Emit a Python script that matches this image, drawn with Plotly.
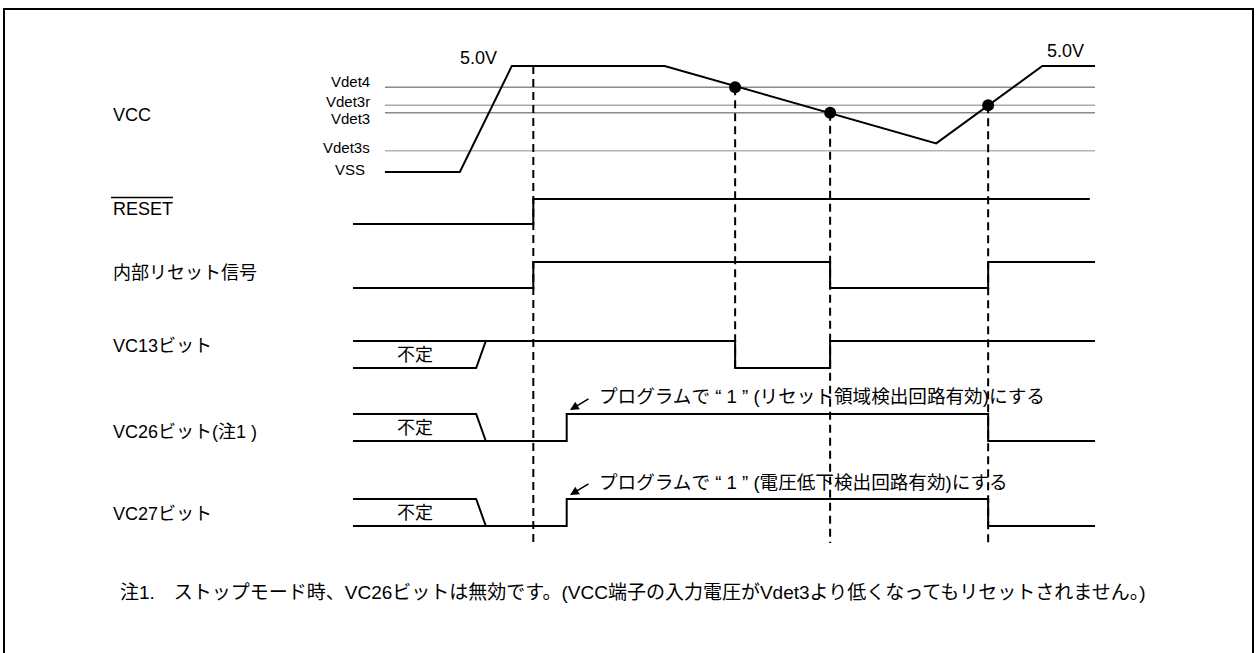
import plotly.graph_objects as go

W, H = 1257, 653

# ---------------- data (time in arbitrary units, levels logical / volts) ----------------
vcc_time = [4.3, 14.4, 21.4, 42.0, 78.6, 92.9, 100.0]
vcc_volt = [0.0, 0.0, 5.0, 5.0, 1.35, 5.0, 5.0]

thr_names = ["Vdet4", "Vdet3r", "Vdet3", "Vdet3s"]
thr_volts = [4.0, 3.15, 2.8, 1.0]
thr_span = [4.3, 100.0]

detect_time = [51.5, 64.3, 85.6]
detect_volt = [4.0, 2.8, 3.15]

reset_time = [0.0, 24.3, 24.3, 99.3]
reset_level = [0, 0, 1, 1]

internal_time = [0.0, 24.3, 24.3, 64.3, 64.3, 85.6, 85.6, 100.0]
internal_level = [0, 0, 1, 1, 0, 0, 1, 1]

vc13_time = [0.0, 51.5, 51.5, 64.3, 64.3, 100.0]
vc13_level = [1, 1, 0, 0, 1, 1]
vc13_undef_time = [0.0, 16.6, 17.9]
vc13_undef_level = [0, 0, 1]

vc26_time = [0.0, 28.8, 28.8, 85.6, 85.6, 100.0]
vc26_level = [0, 0, 1, 1, 0, 0]
vc26_undef_time = [0.0, 16.6, 17.9]
vc26_undef_level = [1, 1, 0]

vc27_time = [0.0, 28.8, 28.8, 85.6, 85.6, 100.0]
vc27_level = [0, 0, 1, 1, 0, 0]
vc27_undef_time = [0.0, 16.6, 17.9]
vc27_undef_level = [1, 1, 0]

signal_labels = ["VCC", "RESET", "内部リセット信号", "VC13ビット", "VC26ビット(注1 )", "VC27ビット"]
undef_text = "不定"
note_vc26 = "プログラムで “ 1 ” (リセット領域検出回路有効)にする"
note_vc27 = "プログラムで “ 1 ” (電圧低下検出回路有効)にする"
footnote = "注1.　ストップモード時、VC26ビットは無効です。(VCC端子の入力電圧がVdet3より低くなってもリセットされません。)"
v_top_label = "5.0V"

# ---------------- layout geometry ----------------
X0_PX, PX_PER_T = 353.0, 7.42
x_range = [(0 - X0_PX) / PX_PER_T, (W - X0_PX) / PX_PER_T]


def yrange(p_lo, p_hi, v_lo, v_hi):
    upp = (v_hi - v_lo) / (p_lo - p_hi)
    return [v_lo - (H - p_lo) * upp, v_lo + p_lo * upp]


def fx(p):
    return p / W


def fy(p):
    return 1 - p / H


# pixel rows of each signal (low, high)
rows = {
    "vcc": (172, 66, 0.0, 5.0),
    "reset": (224, 199, 0, 1),
    "internal": (288, 262, 0, 1),
    "vc13": (368, 341, 0, 1),
    "vc26": (441, 414, 0, 1),
    "vc27": (526, 499, 0, 1),
}
axis_of = {"vcc": "y", "reset": "y2", "internal": "y3", "vc13": "y4", "vc26": "y5", "vc27": "y6"}


def vcc_py(v):
    p_lo, p_hi, v_lo, v_hi = rows["vcc"]
    return p_lo + (v - v_lo) / (v_hi - v_lo) * (p_hi - p_lo)


fig = go.Figure()
BLK = dict(color="black", width=2)

# threshold lines
thr_colors = ["#8a8a8a", "#ababab", "#8a8a8a", "#b5b5b5"]
for v, c in zip(thr_volts, thr_colors):
    fig.add_trace(go.Scatter(x=thr_span, y=[v, v], mode="lines", line=dict(color=c, width=1.5),
                             yaxis="y", hoverinfo="skip", showlegend=False))

# dashed guides (shapes)
dash_x = [24.3] + detect_time
dash_top = [vcc_py(5.0)] + [vcc_py(v) for v in detect_volt]
dash_bot = [543, 368, 543, 543]
for t, ytop, ybot in zip(dash_x, dash_top, dash_bot):
    fig.add_shape(type="line", xref="x", yref="paper", x0=t, x1=t, y0=fy(ytop), y1=fy(ybot),
                  line=dict(color="black", width=2, dash="8px,5px"))

# signals
fig.add_trace(go.Scatter(x=vcc_time, y=vcc_volt, mode="lines", line=BLK, yaxis="y",
                         hoverinfo="skip", showlegend=False))
fig.add_trace(go.Scatter(x=detect_time, y=detect_volt, mode="markers", yaxis="y",
                         marker=dict(color="black", size=12), cliponaxis=False,
                         hoverinfo="skip", showlegend=False))

for key, tt, ll in [("reset", reset_time, reset_level),
                    ("internal", internal_time, internal_level),
                    ("vc13", vc13_time, vc13_level),
                    ("vc13", vc13_undef_time, vc13_undef_level),
                    ("vc26", vc26_time, vc26_level),
                    ("vc26", vc26_undef_time, vc26_undef_level),
                    ("vc27", vc27_time, vc27_level),
                    ("vc27", vc27_undef_time, vc27_undef_level)]:
    fig.add_trace(go.Scatter(x=tt, y=ll, mode="lines", line=BLK, yaxis=axis_of[key],
                             hoverinfo="skip", showlegend=False))

FONT = "Liberation Sans, Arial, Noto Sans CJK JP, sans-serif"
ann = []


def text(s, xp, yp, size=18, xanchor="left"):
    ann.append(dict(text=s, x=fx(xp), y=fy(yp), xref="paper", yref="paper", showarrow=False,
                    xanchor=xanchor, yanchor="middle", font=dict(family=FONT, size=size, color="black")))


label_rows = [115, 209, 273, 346, 432, 514]
for s, yp in zip(signal_labels, label_rows):
    text(s, 111, yp, size=18)

thr_label_rows = [82, 101, 118, 147]
for s, yp in zip(thr_names, thr_label_rows):
    text(s, 372, yp, size=15, xanchor="right")
text("VSS", 367, 170, size=15, xanchor="right")

text(v_top_label, 499, 58, size=18, xanchor="right")
text(v_top_label, 1086, 51, size=18, xanchor="right")

for key in ["vc13", "vc26", "vc27"]:
    ann.append(dict(text=undef_text, x=8.4, y=0.5, xref="x", yref=axis_of[key], showarrow=False,
                    xanchor="center", yanchor="middle", font=dict(family=FONT, size=18, color="black")))

text(note_vc26, 597, 396, size=18.6)
text(note_vc27, 597, 482, size=18.6)
text(footnote, 118, 592, size=19)

for ytip in [410, 495]:
    ann.append(dict(text="", x=fx(570), y=fy(ytip), xref="paper", yref="paper",
                    ax=20, ay=-12, axref="pixel", ayref="pixel", showarrow=True,
                    arrowhead=2, arrowsize=1.1, arrowwidth=1.6, arrowcolor="black"))

# overline of RESET
fig.add_shape(type="line", xref="paper", yref="paper", x0=fx(111), x1=fx(173), y0=fy(197.5), y1=fy(197.5),
              line=dict(color="black", width=1.3))
# frame
fig.add_shape(type="rect", xref="paper", yref="paper", x0=fx(4), x1=fx(1253), y0=fy(670), y1=fy(9),
              line=dict(color="black", width=2))

layout_axes = {}
for i, key in enumerate(["vcc", "reset", "internal", "vc13", "vc26", "vc27"]):
    name = "yaxis" if i == 0 else f"yaxis{i + 1}"
    ax = dict(range=yrange(*rows[key]), domain=[0, 1], visible=False, fixedrange=True)
    if i > 0:
        ax["overlaying"] = "y"
    layout_axes[name] = ax

fig.update_layout(
    width=W, height=H, autosize=False,
    margin=dict(l=0, r=0, t=0, b=0),
    paper_bgcolor="white", plot_bgcolor="rgba(0,0,0,0)",
    xaxis=dict(range=x_range, domain=[0, 1], visible=False, fixedrange=True),
    annotations=ann,
    showlegend=False,
    **layout_axes,
)

fig.write_html("out.html", config={"displayModeBar": False})
